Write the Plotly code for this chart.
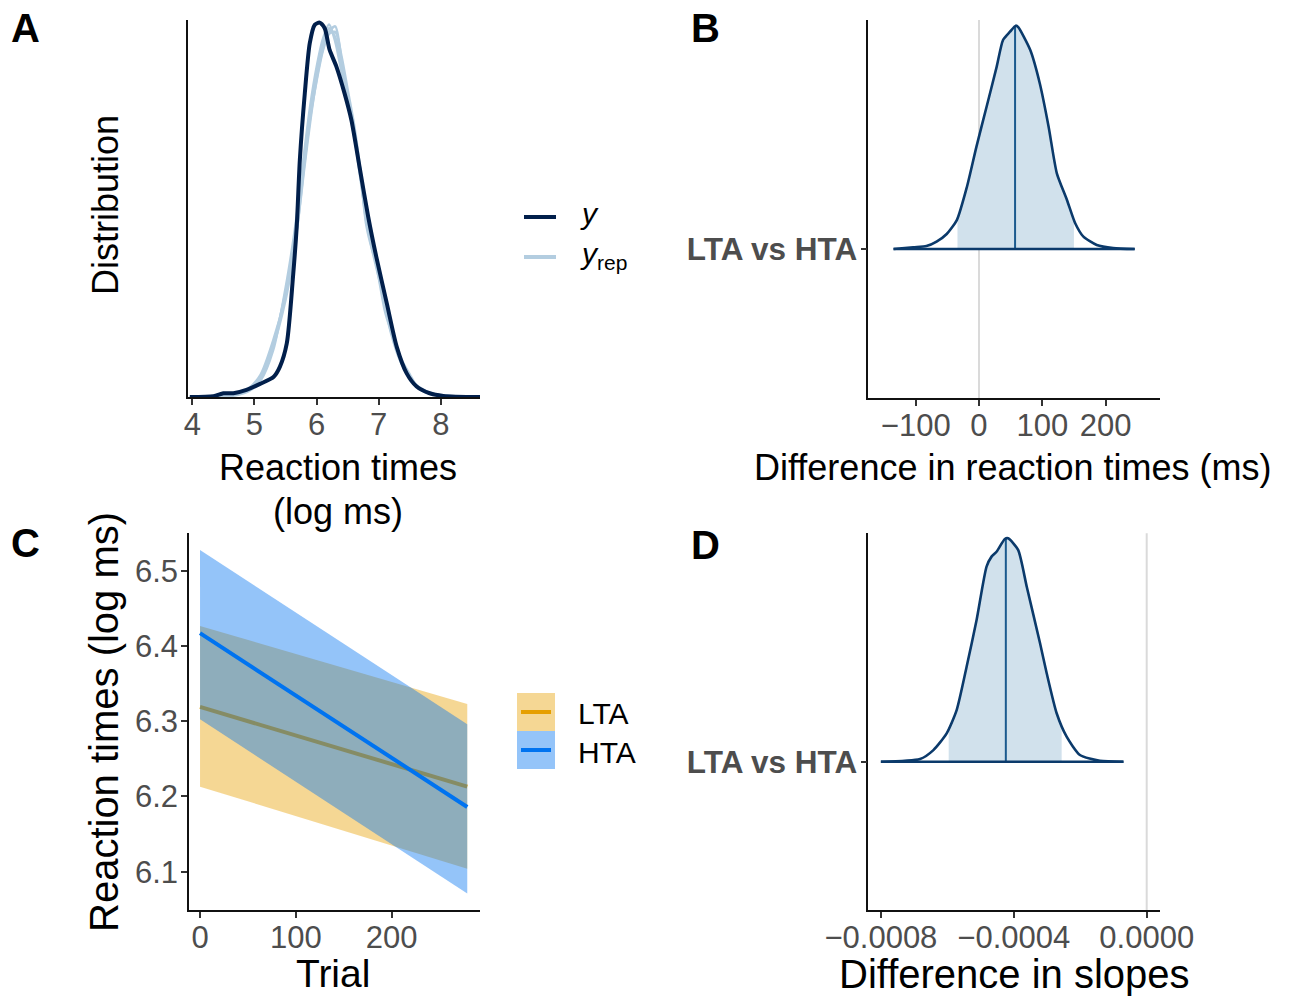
import numpy as np
import plotly.graph_objects as go

# ---------------- DATA ----------------
# Panel A: posterior predictive density overlay (relative density, peak = 1)
a_obs_x = [3.96, 4.34, 4.50, 4.66, 4.87, 5.09, 5.31, 5.41, 5.52, 5.62, 5.68, 5.73, 5.81, 5.89, 5.97,
           6.05, 6.13, 6.21, 6.32, 6.45, 6.56, 6.70, 6.83, 6.96, 7.13, 7.29, 7.45, 7.61, 7.82, 8.04, 8.63]
a_obs_h = [0, 0.002, 0.010, 0.010, 0.019, 0.035, 0.054, 0.081, 0.143, 0.321, 0.455, 0.633, 0.811, 0.945, 0.994,
           1.0, 0.985, 0.927, 0.882, 0.811, 0.740, 0.606, 0.482, 0.375, 0.250, 0.134, 0.063, 0.028, 0.010, 0.003, 0]
a_rep_x = [3.96, 4.4, 4.7, 4.9, 5.1, 5.3, 5.5, 5.6, 5.7, 5.8, 5.9, 6.0, 6.1, 6.2, 6.3, 6.4, 6.5, 6.6,
           6.7, 6.8, 6.9, 7.0, 7.1, 7.2, 7.35, 7.5, 7.6, 7.8, 8.0, 8.3, 8.63]
a_rep1 = [0, 0.001, 0.006, 0.018, 0.050, 0.140, 0.280, 0.370, 0.490, 0.640, 0.760, 0.860, 0.940, 0.985, 0.960, 0.880,
          0.800, 0.720, 0.600, 0.470, 0.400, 0.330, 0.240, 0.180, 0.100, 0.055, 0.030, 0.012, 0.004, 0.001, 0]
a_rep2 = [0, 0.002, 0.008, 0.022, 0.060, 0.150, 0.270, 0.360, 0.470, 0.610, 0.740, 0.850, 0.930, 0.975, 0.990, 0.900,
          0.810, 0.710, 0.590, 0.480, 0.390, 0.320, 0.250, 0.170, 0.095, 0.050, 0.028, 0.010, 0.003, 0.001, 0]
a_rep3 = [0, 0.001, 0.005, 0.015, 0.045, 0.125, 0.290, 0.390, 0.510, 0.650, 0.780, 0.880, 0.955, 0.995, 0.950, 0.870,
          0.790, 0.700, 0.610, 0.490, 0.410, 0.320, 0.230, 0.175, 0.105, 0.060, 0.033, 0.013, 0.004, 0.001, 0]
a_rep4 = [0, 0.002, 0.007, 0.020, 0.055, 0.135, 0.260, 0.350, 0.470, 0.620, 0.750, 0.845, 0.925, 0.970, 0.975, 0.910,
          0.820, 0.730, 0.610, 0.460, 0.390, 0.340, 0.250, 0.180, 0.100, 0.052, 0.030, 0.011, 0.004, 0.001, 0]
a_rep_list = [a_rep1, a_rep2, a_rep3, a_rep4]
a_xticks = [4, 5, 6, 7, 8]

# Panel B: posterior of difference in reaction times (ms)
b_x = [-135, -104, -83, -67, -51, -35, -19, -4, 12, 28, 38, 49, 58, 62, 81, 96, 110, 123, 139, 152, 165, 186, 212, 246]
b_h = [0, 0.008, 0.013, 0.033, 0.067, 0.129, 0.278, 0.457, 0.635, 0.814, 0.933, 0.970, 0.997, 0.990, 0.888, 0.740,
       0.546, 0.338, 0.219, 0.115, 0.055, 0.018, 0.004, 0]
b_interval = [-34, 150]
b_median = 57
b_xticks = [-100, 0, 100, 200]
b_xticktext = ["\u2212100", "0", "100", "200"]

# Panel C: model predictions over trials
trial = [0, 279]
lta_fit = [6.319, 6.213]
lta_lo = [6.213, 6.104]
lta_hi = [6.4265, 6.323]
hta_fit = [6.417, 6.186]
hta_lo = [6.3025, 6.071]
hta_hi = [6.5275, 6.296]
c_xticks = [0, 100, 200]
c_yticks = [6.1, 6.2, 6.3, 6.4, 6.5]

# Panel D: posterior of difference in slopes
d_x = [-8.0e-4, -6.82e-4, -6.42e-4, -6.02e-4, -5.72e-4, -5.42e-4, -5.12e-4, -4.82e-4, -4.67e-4, -4.52e-4,
       -4.27e-4, -4.17e-4, -3.87e-4, -3.61e-4, -3.21e-4, -3.01e-4, -2.71e-4, -2.41e-4, -2.01e-4, -1.41e-4, -0.70e-4]
d_h = [0, 0.012, 0.052, 0.127, 0.231, 0.425, 0.634, 0.873, 0.918, 0.940, 0.997, 1.0, 0.948, 0.783, 0.530, 0.396,
       0.217, 0.112, 0.030, 0.004, 0]
d_interval = [-5.96e-4, -2.56e-4]
d_median = -4.24e-4
d_xticks = [-0.0008, -0.0004, 0.0]
d_xticktext = ["\u22120.0008", "\u22120.0004", "0.0000"]

contrast_label = "LTA vs HTA"

# ---------------- STYLE ----------------
OFF = 0
W, H = 1290, 996
FONT = "Liberation Sans, Arial, Helvetica, sans-serif"
TICK_COL = "#4D4D4D"
Y_COL = "#011f4b"
YREP_COL = "#b3cde0"
OUT_COL = "#0b3a6b"
MED_COL = "#1b5a8e"
FILL_COL = "#d1e1ec"
ORANGE = "#E69F00"
BLUE = "#0073F0"
ALPHA = 0.42


def px(x):
    return (x - OFF) / W


def py(y):
    return 1 - (y - OFF) / H


def rgba(hexc, a):
    h = hexc.lstrip("#")
    return f"rgba({int(h[0:2],16)},{int(h[2:4],16)},{int(h[4:6],16)},{a})"


fig = go.Figure()

# ---------- Panel A ----------
for rep in a_rep_list:
    fig.add_trace(go.Scatter(x=a_rep_x, y=rep, mode="lines", line=dict(color=YREP_COL, width=2.6, shape="spline", smoothing=0.8),
                             xaxis="x", yaxis="y", showlegend=False, hoverinfo="skip"))
fig.add_trace(go.Scatter(x=a_obs_x, y=a_obs_h, mode="lines", line=dict(color=Y_COL, width=4, shape="spline", smoothing=0.7),
                         xaxis="x", yaxis="y", showlegend=False))


# ---------- Panels B, D (areas) ----------
def add_area(xs, hs, interval, median, xa, ya):
    xs = np.asarray(xs, float)
    hs = np.asarray(hs, float)
    lo, hi = interval
    inner = (xs > lo) & (xs < hi)
    fx = np.concatenate([[lo], xs[inner], [hi]])
    fh = np.concatenate([[np.interp(lo, xs, hs)], hs[inner], [np.interp(hi, xs, hs)]])
    fig.add_trace(go.Scatter(x=[lo, hi], y=[1, 1], mode="lines", line=dict(width=0), xaxis=xa, yaxis=ya,
                             showlegend=False, hoverinfo="skip"))
    fig.add_trace(go.Scatter(x=fx, y=1 + fh, mode="lines", fill="tonexty", fillcolor=FILL_COL,
                             line=dict(width=0, shape="spline", smoothing=0.6), xaxis=xa, yaxis=ya,
                             showlegend=False, hoverinfo="skip"))
    mh = np.interp(median, xs, hs)
    fig.add_trace(go.Scatter(x=[median, median], y=[1, 1 + mh], mode="lines", line=dict(color=MED_COL, width=2),
                             xaxis=xa, yaxis=ya, showlegend=False))
    fig.add_trace(go.Scatter(x=xs, y=1 + hs, mode="lines", line=dict(color=OUT_COL, width=2.6, shape="spline", smoothing=0.6),
                             xaxis=xa, yaxis=ya, showlegend=False))
    fig.add_trace(go.Scatter(x=[xs[0], xs[-1]], y=[1, 1], mode="lines", line=dict(color=OUT_COL, width=2.6),
                             xaxis=xa, yaxis=ya, showlegend=False, hoverinfo="skip"))


add_area(b_x, b_h, b_interval, b_median, "x2", "y2")
add_area(d_x, d_h, d_interval, d_median, "x4", "y4")

# ---------- Panel C ----------
for lo, hi, fit, col in [(lta_lo, lta_hi, lta_fit, ORANGE), (hta_lo, hta_hi, hta_fit, BLUE)]:
    fig.add_trace(go.Scatter(x=trial, y=lo, mode="lines", line=dict(width=0), xaxis="x3", yaxis="y3",
                             showlegend=False, hoverinfo="skip"))
    fig.add_trace(go.Scatter(x=trial, y=hi, mode="lines", line=dict(width=0), fill="tonexty", fillcolor=rgba(col, ALPHA),
                             xaxis="x3", yaxis="y3", showlegend=False, hoverinfo="skip"))
    fig.add_trace(go.Scatter(x=trial, y=fit, mode="lines", line=dict(color=col, width=4), xaxis="x3", yaxis="y3",
                             showlegend=False))

# ---------- Axes ----------
common = dict(showgrid=False, zeroline=False, showline=True, linecolor="#111111", linewidth=1.6,
              ticks="outside", ticklen=6, tickwidth=1.6, tickcolor="#333333", automargin=False,
              tickfont=dict(family=FONT, size=31, color=TICK_COL))
xcommon = dict(common, ticklabelstandoff=-7)
ycommon = dict(common, ticklabelstandoff=-3)

A_X = [px(188), px(480)]
B_X = [px(868.3), px(1160)]
TOP_Y = [py(397), py(20)]
TOPB_Y = [py(398.3), py(20)]
BOT_Y = [py(910), py(533.3)]
BOLD_TICK = dict(family=FONT, size=31.5, color=TICK_COL, weight="bold")

fig.update_layout(
    xaxis=dict(xcommon, domain=A_X, range=[3.93, 8.63], tickvals=a_xticks, anchor="y"),
    yaxis=dict(ycommon, domain=TOP_Y, range=[0, 1.007], ticks="", showticklabels=False, anchor="x"),
    xaxis2=dict(xcommon, domain=B_X, range=[-174.9, 286], tickvals=b_xticks, ticktext=b_xticktext, anchor="y2"),
    yaxis2=dict(ycommon, domain=TOPB_Y, range=[0.3335, 2.0223], tickvals=[1], ticktext=[contrast_label],
                tickfont=BOLD_TICK, anchor="x2"),
    xaxis3=dict(xcommon, domain=[px(189), px(480)], range=[-11.5, 292.3], tickvals=c_xticks, anchor="y3"),
    yaxis3=dict(ycommon, domain=BOT_Y, range=[6.0491, 6.5497], tickvals=c_yticks,
                ticktext=[f"{v:.1f}" for v in c_yticks], anchor="x3"),
    xaxis4=dict(xcommon, domain=B_X, range=[-0.0008379, 0.00004], tickvals=d_xticks, ticktext=d_xticktext, anchor="y4"),
    yaxis4=dict(ycommon, domain=BOT_Y, range=[0.3362, 2.0224], tickvals=[1], ticktext=[contrast_label],
                tickfont=BOLD_TICK, anchor="x4"),
)

# zero reference lines
shapes = []
for xr, yr in [("x2", "y2 domain"), ("x4", "y4 domain")]:
    shapes.append(dict(type="line", xref=xr, yref=yr, x0=0, x1=0, y0=0, y1=1,
                       line=dict(color="#DADADA", width=2), layer="below"))

# legend keys (panel A)
shapes.append(dict(type="line", xref="paper", yref="paper", x0=px(524), x1=px(556), y0=py(217), y1=py(217),
                   line=dict(color=Y_COL, width=4)))
shapes.append(dict(type="line", xref="paper", yref="paper", x0=px(524), x1=px(556), y0=py(257), y1=py(257),
                   line=dict(color=YREP_COL, width=4)))
# legend keys (panel C)
shapes.append(dict(type="rect", xref="paper", yref="paper", x0=px(517), x1=px(555), y0=py(731), y1=py(693),
                   fillcolor=rgba(ORANGE, ALPHA), line=dict(width=0)))
shapes.append(dict(type="rect", xref="paper", yref="paper", x0=px(517), x1=px(555), y0=py(769), y1=py(731),
                   fillcolor=rgba(BLUE, ALPHA), line=dict(width=0)))
shapes.append(dict(type="line", xref="paper", yref="paper", x0=px(521), x1=px(551), y0=py(712), y1=py(712),
                   line=dict(color=ORANGE, width=4)))
shapes.append(dict(type="line", xref="paper", yref="paper", x0=px(521), x1=px(551), y0=py(750), y1=py(750),
                   line=dict(color=BLUE, width=4)))
fig.update_layout(shapes=shapes)


def ann(text, x, y, size, xanchor="center", yanchor="middle", angle=0, bold=False, color="black"):
    return dict(text=text, x=px(x), y=py(y), xref="paper", yref="paper", showarrow=False,
                xanchor=xanchor, yanchor=yanchor, textangle=angle,
                font=dict(family=FONT, size=size, color=color, weight="bold" if bold else "normal"))


annotations = [
    ann("A", 25, 28, 40, bold=True),
    ann("B", 705, 28, 40, bold=True),
    ann("C", 25, 543, 40, bold=True),
    ann("D", 705, 545, 40, bold=True),
    ann("Reaction times", 338, 467, 36),
    ann("(log ms)", 338, 511, 36),
    ann("Distribution", 105, 205, 36, angle=-90),
    ann("Difference in reaction times (ms)", 1013, 467, 36),
    ann("Trial", 333, 973, 39),
    ann("Reaction times (log ms)", 104, 722, 40, angle=-90),
    ann("Difference in slopes", 1014, 974, 40),
    ann("<i>y</i>", 578, 213, 30, xanchor="left"),
    ann("<i>y</i><sub>rep</sub>", 578, 255, 30, xanchor="left"),
    ann("LTA", 576, 713, 30, xanchor="left"),
    ann("HTA", 576, 752, 30, xanchor="left"),
]
fig.update_layout(annotations=annotations)

fig.update_layout(width=W, height=H, margin=dict(l=0, r=0, t=0, b=0, autoexpand=False),
                  paper_bgcolor="white", plot_bgcolor="white",
                  showlegend=False, font=dict(family=FONT))

fig.write_html("out.html", config={"displayModeBar": False},
               post_script="document.body.style.margin='0';document.body.style.overflow='hidden';")
